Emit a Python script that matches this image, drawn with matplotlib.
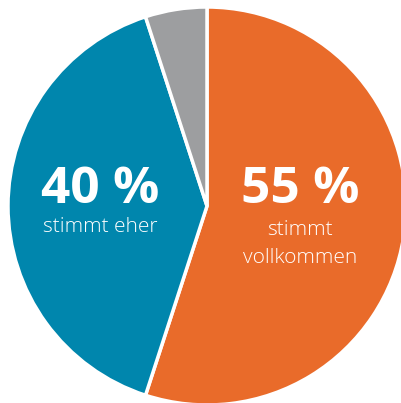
import matplotlib.pyplot as plt

# ── Data ──────────────────────────────────────────────────────────────────────
shares = [55, 40, 5]
pct_labels = ["55 %", "40 %", ""]
sub_labels = ["stimmt\nvollkommen", "stimmt eher", ""]
colors = ["#E96B2A", "#0086AD", "#9D9EA0"]

W, H = 401, 403
CX, CY, R = 207, 206, 199   # pie centre / radius in pixels

fig = plt.figure(figsize=(W / 100, H / 100), dpi=100)
ax = fig.add_axes([0, 0, 1, 1])

ax.pie(
    shares,
    colors=colors,
    startangle=90,
    counterclock=False,
    radius=1.0,
    wedgeprops=dict(edgecolor="white", linewidth=2.5),
)

ax.set_xlim(-CX / R, (W - CX) / R)
ax.set_ylim(-(H - CY) / R, CY / R)
ax.set_aspect("auto")
ax.axis("off")


def px(x, y):
    return (x - CX) / R, (CY - y) / R


font = "Open Sans"

# big percentages
x, y = px(300, 190)
ax.text(x, y, pct_labels[0], color="white", fontsize=37, fontweight="bold",
        family=font, ha="center", va="center")
x, y = px(100, 190)
ax.text(x, y, pct_labels[1], color="white", fontsize=37, fontweight="bold",
        family=font, ha="center", va="center")

# descriptions
x, y = px(300, 244)
ax.text(x, y, sub_labels[0], color="white", fontsize=15, fontweight="light",
        family=font, ha="center", va="center", linespacing=1.5)
x, y = px(100, 227)
ax.text(x, y, sub_labels[1], color="white", fontsize=15, fontweight="light",
        family=font, ha="center", va="center")

fig.savefig("out.png", dpi=100)
